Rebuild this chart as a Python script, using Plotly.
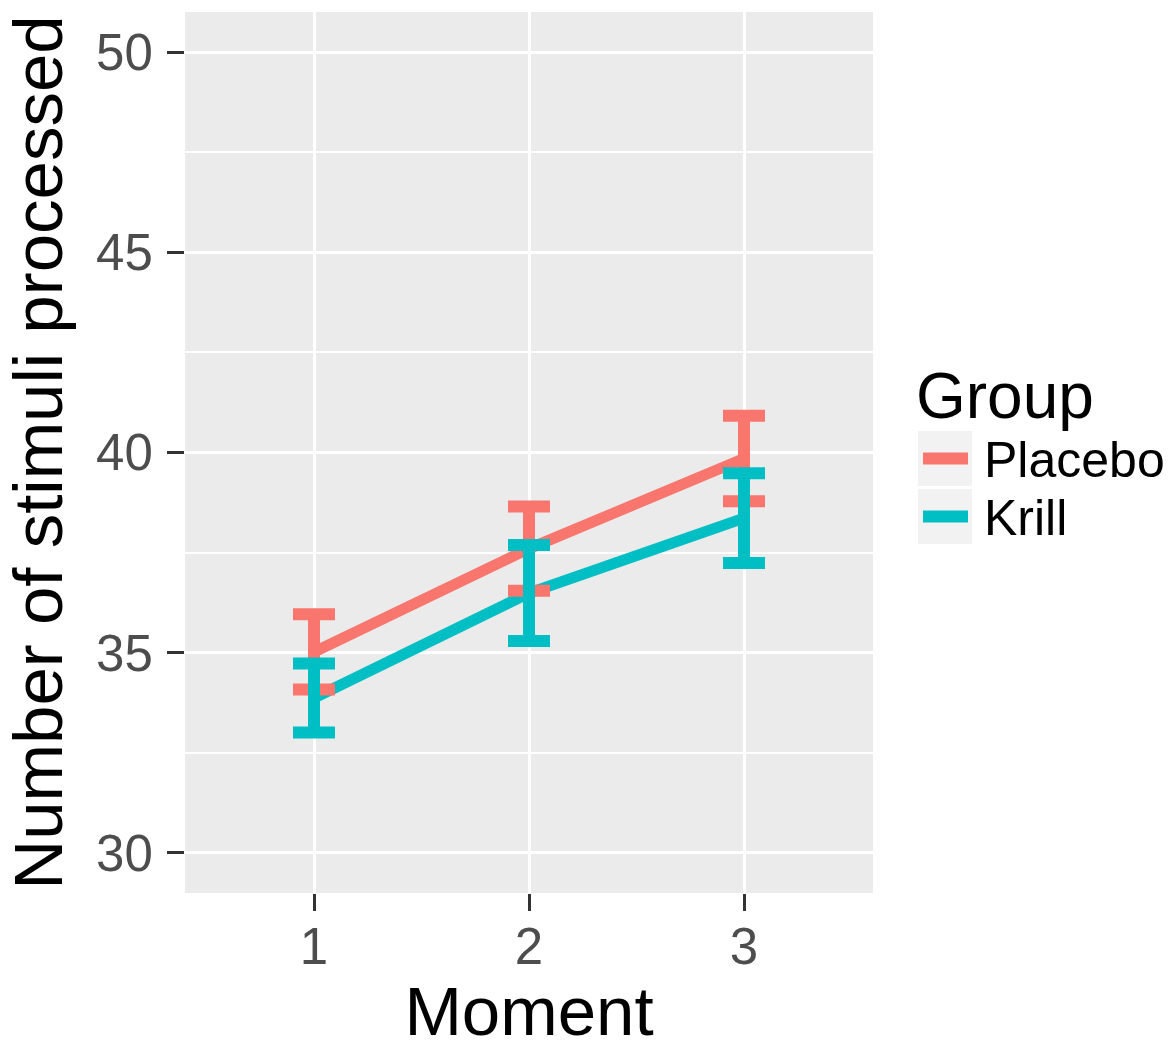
import plotly.graph_objects as go

moments = [1, 2, 3]
groups = ["Placebo", "Krill"]
placebo_mean = [35.02, 37.60, 39.85]
placebo_err = [0.94, 1.05, 1.07]
krill_mean = [33.87, 36.49, 38.36]
krill_err = [0.86, 1.20, 1.12]
y_ticks = [30, 35, 40, 45, 50]
y_minor = [32.5, 37.5, 42.5, 47.5]
x_ticks = ["1", "2", "3"]

colors = {"Placebo": "#F8766D", "Krill": "#00BFC4"}
series = {"Placebo": (placebo_mean, placebo_err), "Krill": (krill_mean, krill_err)}

FONT = "Liberation Sans, Arial, sans-serif"

W, H = 1175, 1050
ML, MR, MT, MB = 185, 302, 12, 157
PW, PH = W - ML - MR, H - MT - MB


def px(xpix):
    return (xpix - ML) / PW


def py(ypix):
    return (H - MB - ypix) / PH


fig = go.Figure()

# lines first
for g in groups:
    m, e = series[g]
    fig.add_trace(go.Scatter(
        x=moments, y=m, mode="lines", name=g,
        line=dict(color=colors[g], width=11),
        legendgroup=g, showlegend=False,
    ))

# error bars on top
for g in groups:
    m, e = series[g]
    fig.add_trace(go.Scatter(
        x=moments, y=m, mode="markers", name=g,
        marker=dict(size=1, opacity=0, color=colors[g]),
        error_y=dict(type="data", array=e, visible=True, color=colors[g],
                     thickness=12, width=21),
        legendgroup=g, showlegend=False, hoverinfo="skip",
    ))

# legend drawn as shapes + text (ggplot style keys)
shapes = []
annotations = []
key_tops = [431, 489]
for i, g in enumerate(groups):
    top = key_tops[i]
    bot = top + 55
    shapes.append(dict(type="rect", xref="paper", yref="paper",
                       x0=px(918), x1=px(972), y0=py(bot), y1=py(top),
                       fillcolor="#F2F2F2", line=dict(width=0), layer="below"))
    cy = (top + bot) / 2
    shapes.append(dict(type="line", xref="paper", yref="paper",
                       x0=px(923), x1=px(968), y0=py(cy), y1=py(cy),
                       line=dict(color=colors[g], width=12)))
    annotations.append(dict(text=g, xref="paper", yref="paper",
                            x=px(982), y=py(cy + 1), xanchor="left", yanchor="middle",
                            showarrow=False,
                            font=dict(size=50, family=FONT, color="black")))
annotations.append(dict(text="Group", xref="paper", yref="paper",
                        x=px(914), y=py(396), xanchor="left", yanchor="middle",
                        showarrow=False,
                        font=dict(size=64, family=FONT, color="black")))

fig.update_layout(
    width=W, height=H,
    margin=dict(l=ML, r=MR, t=MT, b=MB, pad=0),
    paper_bgcolor="white",
    plot_bgcolor="#EBEBEB",
    font=dict(family=FONT, color="black"),
    showlegend=False,
    shapes=shapes,
    annotations=annotations,
)

fig.update_xaxes(
    range=[0.4, 3.6], automargin=False,
    tickvals=moments, ticktext=x_ticks,
    showgrid=True, gridcolor="white", gridwidth=3,
    zeroline=False, showline=False,
    ticks="outside", ticklen=17, tickwidth=2.5, tickcolor="#333333",
    tickfont=dict(size=51, family=FONT, color="#4D4D4D"),
    ticklabelstandoff=-8,
    title=dict(text="Moment", font=dict(size=69, family=FONT, color="black"), standoff=26),
)
fig.update_yaxes(
    range=[29, 51], automargin=False,
    tickvals=y_ticks,
    showgrid=True, gridcolor="white", gridwidth=3,
    minor=dict(tickvals=y_minor, showgrid=True, gridcolor="white", gridwidth=1.5, ticks=""),
    zeroline=False, showline=False,
    ticks="outside", ticklen=17, tickwidth=2.5, tickcolor="#333333",
    tickfont=dict(size=51, family=FONT, color="#4D4D4D"),
    ticklabelstandoff=4,
    title=dict(text="Number of stimuli processed", font=dict(size=69, family=FONT, color="black"), standoff=13),
)

fig.write_html("out.html")
